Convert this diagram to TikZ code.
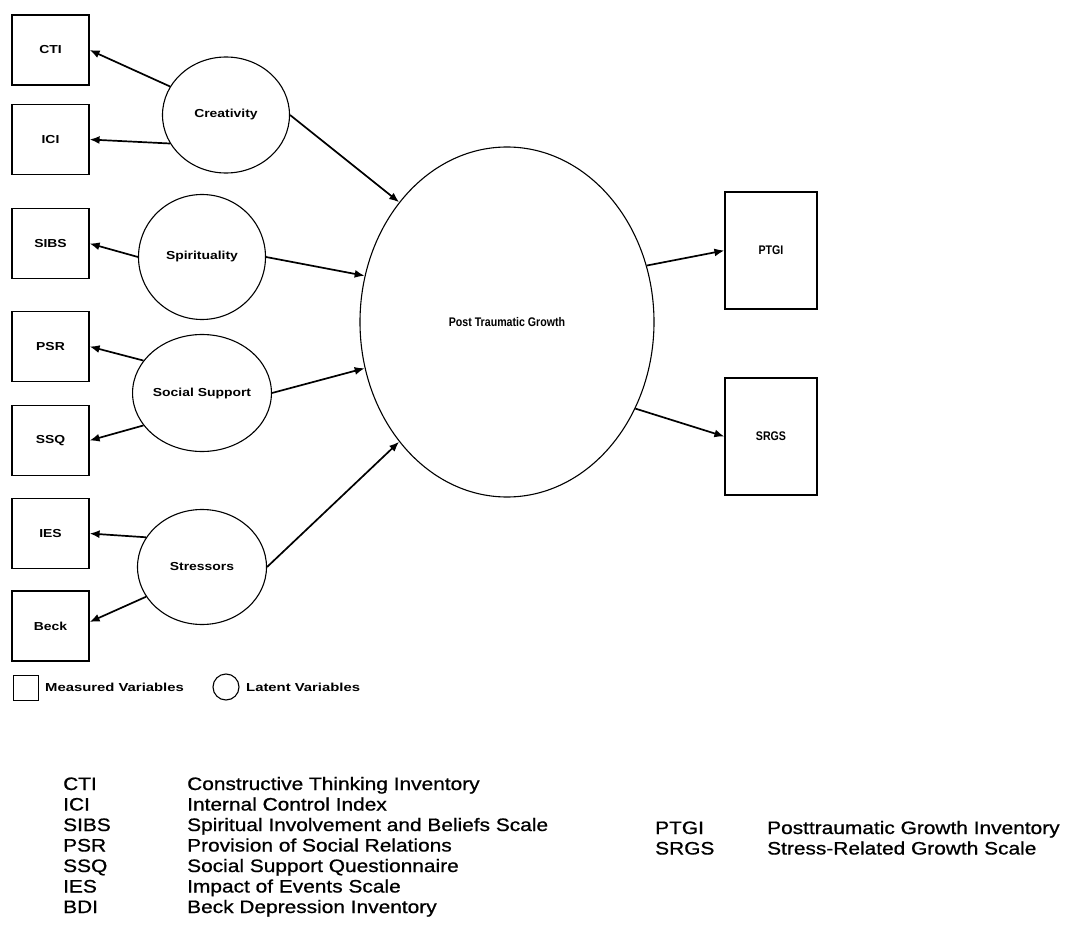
\documentclass[tikz,border=0pt]{standalone}
\usepackage{fontspec}
\setmainfont{Liberation Sans}
\newfontfamily\diagfont[FakeStretch=1.2]{Liberation Sans}
\newfontfamily\keydiagfont[FakeStretch=1.28]{Liberation Sans}
\newfontfamily\growthfont[FakeStretch=0.85]{Liberation Sans}
\newfontfamily\keyfont[FakeStretch=1.16,FakeBold=0.8]{Liberation Sans}
\usetikzlibrary{arrows.meta,calc,shapes.geometric}

\tikzset{
  measured/.style={draw, line width=1.2pt, minimum width=77pt, minimum height=70pt,
    inner sep=0pt, font=\diagfont\bfseries\fontsize{11.6}{13}\selectfont},
  latent/.style={draw, ellipse, line width=1.1pt, inner sep=0pt,
    font=\diagfont\bfseries\fontsize{11.6}{13}\selectfont},
  outcome/.style={font=\growthfont\bfseries\fontsize{12.5}{14}\selectfont},
  link/.style={line width=1.7pt, -{Latex[length=10pt,width=8pt]}},
  keytext/.style={anchor=west, inner sep=0pt, font=\keydiagfont\bfseries\fontsize{11.6}{13}\selectfont},
  listtext/.style={anchor=base west, inner sep=0pt, font=\keyfont\fontsize{18}{20}\selectfont}
}

\begin{document}
\begin{tikzpicture}[x=1pt,y=-1pt]
\fill[white] (0,0) rectangle (1072,939);
\useasboundingbox (0,0) rectangle (1072,939);

% measured indicators of the predictors
\node[measured] (cti)  at (50.5,50)    {CTI};
\node[measured] (ici)  at (50.5,139.5) {ICI};
\node[measured] (sibs) at (50.5,243.5) {SIBS};
\node[measured] (psr)  at (50.5,346.5) {PSR};
\node[measured] (ssq)  at (50.5,440.5) {SSQ};
\node[measured] (ies)  at (50.5,533.5) {IES};
\node[measured] (beck) at (50.5,626)   {Beck};

% latent predictors
\node[latent, minimum width=127pt, minimum height=116pt] (cre) at (226,115) {Creativity};
\node[latent, minimum width=127pt, minimum height=125pt] (spi) at (202,257) {Spirituality};
\node[latent, minimum width=128pt, minimum height=117pt] (soc) at (202,393) {Social Support};
\node[latent, minimum width=129pt, minimum height=115pt] (str) at (202,567) {Stressors};

% outcome construct and its indicators
\node[latent, outcome, minimum width=294pt, minimum height=350pt] (ptg) at (507,322) {Post Traumatic Growth};
\node[measured, outcome, minimum width=92pt, minimum height=117pt] (ptgi) at (771,250.5) {PTGI};
\node[measured, outcome, minimum width=92pt, minimum height=117pt] (srgs) at (771,436.5) {SRGS};

% loadings
\draw[link] (cre.153) -- (cti.east);
\draw[link] (cre.207) -- (ici.east);
\draw[link] (spi.west) -- (sibs.east);
\draw[link] (soc.151) -- (psr.east);
\draw[link] (soc.209) -- (ssq.east);
\draw[link] (str.152) -- (ies.east);
\draw[link] (str.208) -- ($(beck.east)+(0,-4)$);

% structural paths
\draw[link] (cre.east) -- (ptg.132);
\draw[link] (spi.east) -- (ptg.162);
\draw[link] (soc.east) -- (ptg.198);
\draw[link] (str.east) -- (ptg.228);
\draw[link] (ptg.22) -- (ptgi.west);
\draw[link] (ptg.-34) -- (srgs.west);

% key to the symbols
\node[draw, line width=1pt, minimum width=25pt, minimum height=25pt, inner sep=0pt] (keybox) at (25.5,687.5) {};
\node[keytext] (keyboxlabel) at (45,687) {Measured Variables};
\node[draw, circle, line width=1.1pt, minimum size=26pt, inner sep=0pt] (keycirc) at (226,687) {};
\node[keytext] (keycirclabel) at (246,687) {Latent Variables};

% abbreviations
\foreach \abbr/\desc [count=\i] in {CTI/Constructive Thinking Inventory,
    ICI/Internal Control Index,
    SIBS/Spiritual Involvement and Beliefs Scale,
    PSR/Provision of Social Relations,
    SSQ/Social Support Questionnaire,
    IES/Impact of Events Scale,
    BDI/Beck Depression Inventory}{
  \node[listtext] (abbr\i) at (63,{790+20.5*(\i-1)}) {\abbr};
  \node[listtext] (desc\i) at (187,{790+20.5*(\i-1)}) {\desc};
}
\foreach \abbr/\desc [count=\i] in {PTGI/Posttraumatic Growth Inventory,
    SRGS/Stress-Related Growth Scale}{
  \node[listtext] (oabbr\i) at (655,{834+20.5*(\i-1)}) {\abbr};
  \node[listtext] (odesc\i) at (767,{834+20.5*(\i-1)}) {\desc};
}
\end{tikzpicture}
\end{document}
